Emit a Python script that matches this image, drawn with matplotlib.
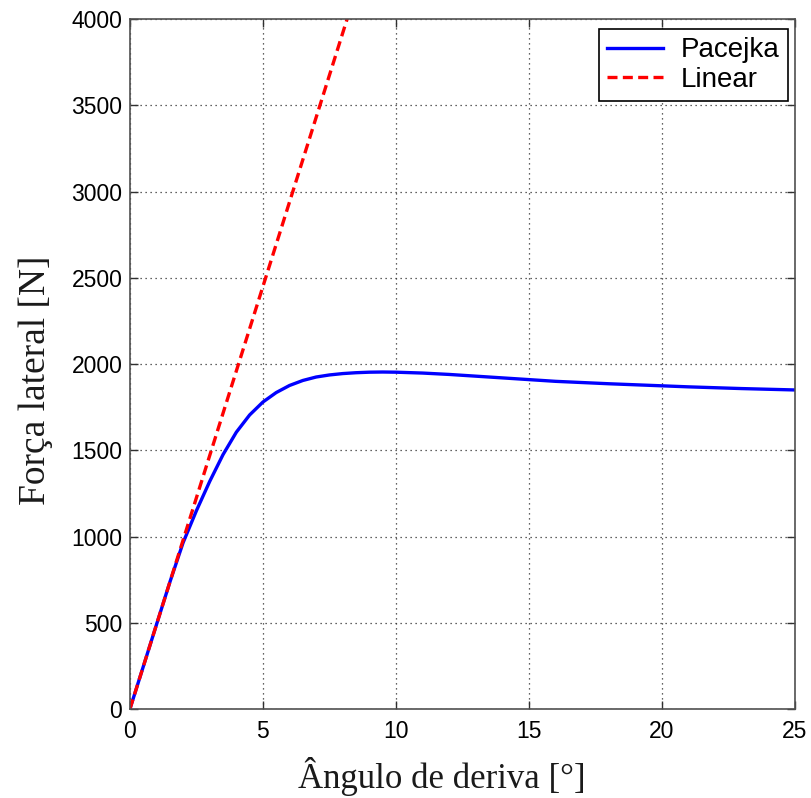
import matplotlib.pyplot as plt

# Slip angle [deg] and lateral force [N] for the Pacejka tyre model
slip_angle = [0, 0.5, 1, 1.5, 2, 2.5, 3, 3.5, 4, 4.5, 5, 5.5, 6, 6.5, 7, 7.5, 8,
              8.5, 9, 9.5, 10, 11, 12, 13, 14, 15, 16, 17, 18, 19, 20, 21, 22,
              23, 24, 25]
pacejka_force = [0, 245, 490, 735, 965, 1150, 1320, 1475, 1605, 1705, 1780, 1835,
                 1876, 1905, 1925, 1937, 1945, 1950, 1953, 1954, 1953, 1948, 1940,
                 1930, 1920, 1910, 1900, 1893, 1886, 1880, 1874, 1868, 1863, 1858,
                 1854, 1850]

# Linear tyre model (cornering stiffness ~490 N/deg)
linear_angle = [0, 9]
linear_force = [0, 4410]

fig = plt.figure(figsize=(8.12, 7.98), dpi=100)
ax = fig.add_axes([0.160, 0.1115, 0.819, 0.8645])

ax.plot(slip_angle, pacejka_force, color='#0000ff', lw=2.4, label='Pacejka')
ax.plot(linear_angle, linear_force, color='#ff0000', lw=2.4, ls=(0, (3, 1.6)),
        label='Linear')

ax.set_xlim(0, 25)
ax.set_ylim(0, 4000)
ax.set_xticks([0, 5, 10, 15, 20, 25])
ax.set_yticks(range(0, 4001, 500))

ax.grid(True, color='#303030', ls=(0, (1, 3)), lw=0.9)
ax.tick_params(direction='in', top=True, right=True, length=6, width=1,
               color='#303030', labelsize=16.5)
ax.tick_params(axis='x', pad=8)
ax.tick_params(axis='y', pad=5.5)
for lbl in ax.get_xticklabels() + ax.get_yticklabels():
    lbl.set_family('Liberation Sans')
for sp in ax.spines.values():
    sp.set_color('#505050')
    sp.set_linewidth(1.2)

ax.set_xlabel('Ângulo de deriva [°]', family='Liberation Serif', fontsize=25,
              color='#1a1a1a', labelpad=10)
ax.set_ylabel('Força lateral [N]', family='Liberation Serif', fontsize=27,
              color='#1a1a1a', labelpad=13)
ax.xaxis.label.set_x(0.469)
ax.yaxis.label.set_y(0.477)

leg = ax.legend(loc='upper right', prop={'family': 'Liberation Sans', 'size': 20},
                fancybox=False, edgecolor='black', framealpha=1,
                handlelength=2.0, handletextpad=0.65, borderpad=0.3,
                labelspacing=0.12, borderaxespad=0,
                bbox_to_anchor=(0.9895, 0.9855))
leg.get_frame().set_linewidth(1.2)

fig.savefig('out.png', dpi=100)
